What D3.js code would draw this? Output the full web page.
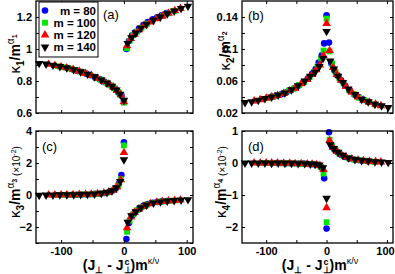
<!doctype html>
<html>
<head>
<script type='text/javascript' src='https://d3js.org/d3.v7.min.js'></script>
<style>
body { margin: 0; background: #fff; }
text { font-family: 'Liberation Sans', Arial, sans-serif; }
</style>
</head>
<body>
<script>
var width = 395, height = 274;
var svg = d3.select('body').append('svg').attr('width', width).attr('height', height);

// series labels and colours
var mLabels = ['m = 80', 'm = 100', 'm = 120', 'm = 140'];
var colors = ['#0000ff', '#00e600', '#ff0000', '#000000'];

// scaled x, (J - Jc) m^(k/v), one grid per m
var x80  = [-90,-82,-75,-67,-60,-53,-46,-38,-31,-24,-18,-13,-8,-4,0,4,8,13,18,24,31,38,46,53,60,68];
var x100 = [-105,-96,-88,-79,-70,-62,-54,-45,-37,-28,-21,-15,-9,-5,0,5,9,15,21,28,37,45,54,62,71,80];
var x120 = [-120,-110,-100,-91,-81,-71,-61,-52,-42,-32,-24,-17,-11,-5,0,5,11,17,24,32,42,52,61,71,81,90];
var x140 = [-135,-124,-113,-102,-91,-80,-69,-58,-47,-36,-27,-19,-12,-6,0,6,12,19,27,36,47,58,69,80,91,102];

// panel (a) k1/m^a1
var a80  = [0.881,0.873,0.865,0.856,0.846,0.836,0.824,0.810,0.795,0.780,0.764,0.748,0.727,0.71,0.675,1.0,1.05,1.085,1.105,1.128,1.15,1.168,1.185,1.198,1.21,1.224];
var a100 = [0.893,0.886,0.879,0.870,0.859,0.849,0.838,0.822,0.808,0.789,0.772,0.755,0.731,0.714,0.665,1.005,1.05,1.087,1.108,1.133,1.158,1.176,1.193,1.206,1.223,1.238];
var a120 = [0.904,0.897,0.889,0.882,0.872,0.861,0.847,0.834,0.817,0.797,0.780,0.761,0.740,0.714,0.67,1.02,1.065,1.092,1.12,1.145,1.169,1.189,1.205,1.223,1.24,1.253];
var a140 = [0.91,0.906,0.899,0.891,0.882,0.871,0.858,0.843,0.826,0.806,0.787,0.767,0.744,0.718,0.68,1.035,1.07,1.10,1.13,1.155,1.18,1.20,1.22,1.238,1.254,1.268];

// panel (b) k2/m^a2
var b80  = [0.0405,0.042,0.0435,0.0455,0.0485,0.051,0.0545,0.0585,0.063,0.069,0.075,0.083,0.092,0.107,0.142,0.108,0.082,0.073,0.067,0.061,0.054,0.048,0.043,0.040,0.037,0.034];
var b100 = [0.0375,0.039,0.0405,0.0425,0.045,0.048,0.0505,0.055,0.059,0.065,0.071,0.078,0.088,0.098,0.138,0.097,0.082,0.071,0.064,0.057,0.049,0.044,0.039,0.036,0.0335,0.031];
var b120 = [0.035,0.0365,0.0385,0.040,0.042,0.0445,0.048,0.051,0.0565,0.062,0.068,0.074,0.08,0.092,0.132,0.098,0.077,0.068,0.061,0.053,0.046,0.040,0.036,0.0335,0.031,0.029];
var b140 = [0.033,0.034,0.036,0.038,0.040,0.0425,0.045,0.049,0.054,0.06,0.066,0.071,0.078,0.088,0.122,0.085,0.075,0.066,0.058,0.05,0.043,0.037,0.034,0.031,0.029,0.027];

// panel (c) k3/m^a3 (x10^-2)
var c80  = [0.01,0.02,0.02,0.03,0.04,0.05,0.07,0.09,0.13,0.19,0.28,0.42,0.7,1.25,3.3,-2.75,-1.75,-1.3,-1.05,-0.86,-0.68,-0.57,-0.48,-0.43,-0.4,-0.37];
var c100 = [0,0.01,0.01,0.02,0.03,0.04,0.05,0.07,0.1,0.15,0.22,0.35,0.6,1.0,3.1,-2.3,-1.6,-1.2,-0.95,-0.77,-0.6,-0.5,-0.44,-0.4,-0.37,-0.34];
var c120 = [0,0,0.01,0.01,0.02,0.03,0.04,0.05,0.08,0.12,0.19,0.3,0.5,0.95,2.65,-2.05,-1.38,-1.1,-0.88,-0.7,-0.55,-0.46,-0.41,-0.37,-0.34,-0.31];
var c140 = [-0.02,0,0,0.01,0.02,0.02,0.03,0.04,0.06,0.1,0.16,0.27,0.45,0.85,2.2,-1.7,-1.3,-1.05,-0.8,-0.62,-0.5,-0.43,-0.38,-0.34,-0.31,-0.29];

// panel (d) k4/m^a4 (x10^-2)
var d80  = [0,0,0,-0.01,-0.01,-0.01,-0.02,-0.02,-0.03,-0.04,-0.05,-0.07,-0.15,-0.48,-2.05,0.96,0.56,0.42,0.34,0.26,0.19,0.14,0.11,0.09,0.07,0.06];
var d100 = [0,0,0,0,-0.01,-0.01,-0.01,-0.02,-0.02,-0.03,-0.04,-0.06,-0.12,-0.33,-1.85,0.73,0.53,0.4,0.3,0.22,0.15,0.11,0.09,0.07,0.05,0.04];
var d120 = [0,0,0,0,0,-0.01,-0.01,-0.02,-0.02,-0.03,-0.04,-0.05,-0.08,-0.2,-1.4,0.7,0.48,0.37,0.27,0.19,0.13,0.09,0.07,0.05,0.04,0.03];
var d140 = [0,0,0,0,-0.01,0,-0.01,-0.01,-0.02,-0.02,-0.03,-0.04,-0.06,-0.15,-1.1,0.57,0.45,0.34,0.24,0.16,0.11,0.08,0.06,0.04,0.03,0.02];

// ticks
var xDomain = [-140, 110];
var xTicks = [-100, -50, 0, 50, 100];
var xTickLabels = [-100, 0, 100];

var xs = [x80, x100, x120, x140];
var symbols = [
  d3.symbol().type(d3.symbolCircle).size(34)(),
  d3.symbol().type(d3.symbolSquare).size(34)(),
  d3.symbol().type(d3.symbolTriangle).size(32)(),
  d3.symbol().type(d3.symbolTriangle).size(32)()
];

function panel(o) {
  var g = svg.append('g').attr('transform', 'translate(' + o.left + ',' + o.top + ')');
  var x = d3.scaleLinear().domain(xDomain).range([0, o.w]);
  var y = d3.scaleLinear().domain(o.yDomain).range([o.h, 0]);

  o.series.forEach(function(s, i) {
    g.append('g').selectAll('path')
      .data(d3.zip(xs[i], s))
      .join('path')
      .attr('d', symbols[i])
      .attr('fill', colors[i])
      .attr('transform', function(d) {
        return 'translate(' + x(d[0]) + ',' + y(d[1]) + ')' + (i == 3 ? ' rotate(180)' : '');
      });
  });

  var fmtX = function(d) { return (o.bottom && xTickLabels.indexOf(d) >= 0) ? d : ''; };
  var fmtY = function(d) { return o.yLabels.indexOf(d) >= 0 ? d3.format(o.fmt)(d) : ''; };

  var xb = g.append('g').attr('transform', 'translate(0,' + o.h + ')')
      .call(d3.axisBottom(x).tickValues(xTicks).tickSize(-3).tickPadding(4).tickFormat(fmtX));
  var ax = [
    xb,
    g.append('g').call(d3.axisTop(x).tickValues(xTicks).tickSize(-3).tickFormat('')),
    g.append('g').call(d3.axisLeft(y).tickValues(o.yTicks).tickSize(-3).tickPadding(4).tickFormat(fmtY)),
    g.append('g').attr('transform', 'translate(' + o.w + ',0)')
      .call(d3.axisRight(y).tickValues(o.yTicks).tickSize(-3).tickFormat(''))
  ];
  ax.forEach(function(a) {
    a.select('.domain').remove();
    a.selectAll('line').attr('stroke', '#000').attr('stroke-width', 1);
    a.selectAll('text').attr('fill', '#000').style('font-family', "'Liberation Sans', Arial, sans-serif")
      .style('font-size', '11px').style('font-weight', 'bold');
  });
  // keep the right-most label inside the window
  if (o.lastShift) {
    xb.selectAll('.tick').filter(function(d) { return d == 100; }).select('text').attr('dx', o.lastShift);
  }

  g.append('rect').attr('width', o.w).attr('height', o.h)
    .attr('fill', 'none').attr('stroke', '#000').attr('stroke-width', 1.3);

  svg.append('text').attr('x', o.tagX).attr('y', o.tagY)
    .style('font-size', '13px').text(o.tag);
}

panel({left: 36, top: 1, w: 157, h: 112, yDomain: [0.6, 1.3],
  yTicks: [0.6, 0.7, 0.8, 0.9, 1, 1.1, 1.2], yLabels: [0.6, 0.8, 1, 1.2], fmt: '~g',
  series: [a80, a100, a120, a140], tag: '(a)', tagX: 103, tagY: 19, bottom: false});
panel({left: 242, top: 1, w: 151, h: 112, yDomain: [0.02, 0.16],
  yTicks: [0.02, 0.04, 0.06, 0.08, 0.1, 0.12, 0.14], yLabels: [0.02, 0.06, 0.1, 0.14], fmt: '~g',
  series: [b80, b100, b120, b140], tag: '(b)', tagX: 248, tagY: 20, bottom: false});
panel({left: 36, top: 131, w: 157, h: 112, yDomain: [-3, 4],
  yTicks: [-3, -2, -1, 0, 1, 2, 3, 4], yLabels: [-2, 0, 2, 4], fmt: 'd',
  series: [c80, c100, c120, c140], tag: '(c)', tagX: 42, tagY: 151, bottom: true});
panel({left: 242, top: 131, w: 151, h: 112, yDomain: [-2.5, 1],
  yTicks: [-2, -1, 0, 1], yLabels: [-2, -1, 0, 1], fmt: 'd',
  series: [d80, d100, d120, d140], tag: '(d)', tagX: 248, tagY: 151, bottom: true, lastShift: -2});

// legend in panel (a)
var leg = svg.append('g');
leg.append('rect').attr('x', 39).attr('y', 2).attr('width', 59).attr('height', 55)
  .attr('fill', '#fff').attr('stroke', '#000').attr('stroke-width', 1);
mLabels.forEach(function(t, i) {
  var yy = 10.5 + i * 12.2;
  leg.append('path').attr('d', symbols[i]).attr('fill', colors[i])
    .attr('transform', 'translate(45,' + yy + ')' + (i == 3 ? ' rotate(180)' : ''));
  leg.append('text').attr('x', 96).attr('y', yy + 4).attr('text-anchor', 'end')
    .style('font-size', '11.5px').style('font-weight', 'bold').text(t);
});

// y axis titles
function yTitle(cx, cy, n, units) {
  var t = svg.append('text').attr('transform', 'translate(' + cx + ',' + cy + ') rotate(-90)')
    .attr('text-anchor', 'middle').style('font-weight', 'bold');
  t.append('tspan').style('font-size', '15px').style('font-weight', 'normal').text('κ');
  t.append('tspan').style('font-size', '10px').attr('dy', 4).text(n);
  t.append('tspan').style('font-size', '14px').attr('dy', -4).text('/m');
  t.append('tspan').style('font-size', '10px').style('font-weight', 'normal').attr('dy', -6).text('α');
  t.append('tspan').style('font-size', '7px').attr('dy', 3).text(n);
  if (units) {
    t.append('tspan').style('font-size', '10px').style('font-weight', 'normal').attr('dy', 3).text(' (×10');
    t.append('tspan').style('font-size', '7px').style('font-weight', 'normal').attr('dy', -4).text('-2');
    t.append('tspan').style('font-size', '10px').style('font-weight', 'normal').attr('dy', 4).text(')');
  }
}
yTitle(20, 54, '1', false);
yTitle(230, 51, '2', false);
yTitle(20, 182, '3', true);
yTitle(226, 182, '4', true);

// x axis titles
function xTitle(cx) {
  var t = svg.append('text').attr('x', cx).attr('y', 270).attr('text-anchor', 'middle')
    .style('font-size', '14px').style('font-weight', 'bold');
  t.append('tspan').text('(J');
  t.append('tspan').style('font-size', '9px').attr('dy', 3).text('⊥');
  t.append('tspan').attr('dy', -3).text(' - J');
  t.append('tspan').style('font-size', '9px').attr('dy', 3).text('⊥');
  t.append('tspan').style('font-size', '9px').attr('dx', -7).attr('dy', -8).text('c');
  t.append('tspan').attr('dy', 5).attr('dx', 1).text(')m');
  t.append('tspan').style('font-size', '9px').style('font-weight', 'normal').attr('dy', -6).text('κ/ν');
}
xTitle(121);
xTitle(320);
</script>
</body>
</html>
